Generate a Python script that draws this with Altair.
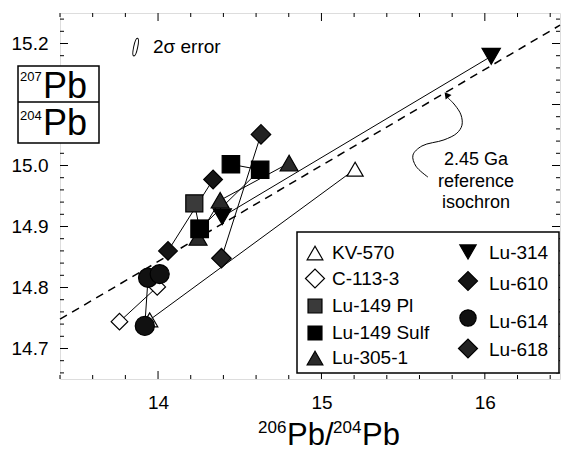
import altair as alt
import pandas as pd

# ---------------- data ----------------
SERIES = ["KV-570", "C-113-3", "Lu-149 Pl", "Lu-149 Sulf", "Lu-305-1",
          "Lu-314", "Lu-610", "Lu-614", "Lu-618"]

KV570_X = [13.949, 15.206]
KV570_Y = [14.747, 14.994]
C1133_X = [13.764, 13.995]
C1133_Y = [14.744, 14.801]
LU149PL_X = [14.222, 14.255]
LU149PL_Y = [14.938, 14.896]
LU149SULF_X = [14.255, 14.625, 14.446]
LU149SULF_Y = [14.896, 14.993, 15.002]
LU3051_X = [14.245, 14.380, 14.802]
LU3051_Y = [14.882, 14.943, 15.004]
LU314_X = [14.393, 16.039]
LU314_Y = [14.916, 15.179]
LU610_X = [14.061, 14.337]
LU610_Y = [14.860, 14.977]
LU614_X = [13.919, 13.939, 14.010]
LU614_Y = [14.737, 14.816, 14.822]
LU618_X = [14.388, 14.630]
LU618_Y = [14.848, 15.051]

# 2.45 Ga reference isochron end points
ISO_X = [13.4, 16.46]
ISO_Y = [14.748, 15.230]

# curved annotation arrow (data units)
ARROW_X = [15.774, 15.817, 15.854, 15.860, 15.829, 15.750, 15.615, 15.560, 15.578, 15.652]
ARROW_Y = [15.111, 15.099, 15.083, 15.066, 15.053, 15.042, 15.032, 15.017, 14.999, 14.981]

X_MAJOR = [14, 15, 16]
X_MINOR = [13.4, 13.6, 13.8, 14.2, 14.4, 14.6, 14.8, 15.2, 15.4, 15.6, 15.8, 16.2, 16.4]
Y_MAJOR = [14.7, 14.8, 14.9, 15.0, 15.1, 15.2]
Y_LABELS = [14.7, 14.8, 14.9, 15.0, 15.2]   # 15.1 is hidden under the title box
Y_MINOR = [14.66, 14.68, 14.72, 14.74, 14.76, 14.78, 14.82, 14.84, 14.86, 14.88,
           14.92, 14.94, 14.96, 14.98, 15.02, 15.04, 15.06, 15.08, 15.12, 15.14,
           15.16, 15.18, 15.22, 15.24]

# ---------------- build tables ----------------
series_xy = {
    "KV-570": (KV570_X, KV570_Y), "C-113-3": (C1133_X, C1133_Y),
    "Lu-149 Pl": (LU149PL_X, LU149PL_Y), "Lu-149 Sulf": (LU149SULF_X, LU149SULF_Y),
    "Lu-305-1": (LU3051_X, LU3051_Y), "Lu-314": (LU314_X, LU314_Y),
    "Lu-610": (LU610_X, LU610_Y), "Lu-614": (LU614_X, LU614_Y),
    "Lu-618": (LU618_X, LU618_Y),
}
DRAW_ORDER = ["KV-570", "C-113-3", "Lu-305-1", "Lu-149 Pl", "Lu-149 Sulf",
              "Lu-314", "Lu-610", "Lu-618", "Lu-614"]
rows = []
k = 0
for s in DRAW_ORDER:
    xs_, ys_ = series_xy[s]
    for i, (a, b) in enumerate(zip(xs_, ys_)):
        rows.append({"series": s, "x": a, "y": b, "i": i, "k": k})
        k += 1
pts = pd.DataFrame(rows)

SHAPES = {"KV-570": "triangle-up", "C-113-3": "diamond", "Lu-149 Pl": "square",
          "Lu-149 Sulf": "square", "Lu-305-1": "triangle-up", "Lu-314": "triangle-down",
          "Lu-610": "diamond", "Lu-614": "circle", "Lu-618": "diamond"}
FILLS = {"KV-570": "white", "C-113-3": "white", "Lu-149 Pl": "#3a3a3a",
         "Lu-149 Sulf": "black", "Lu-305-1": "#2a2a2a", "Lu-314": "black",
         "Lu-610": "#151515", "Lu-614": "#111111", "Lu-618": "#222222"}
SIZES = {"triangle-up": 260, "triangle-down": 280, "diamond": 380, "square": 205, "circle": 280}

iso = pd.DataFrame({"x": ISO_X, "y": ISO_Y})
arrow = pd.DataFrame({"x": ARROW_X, "y": ARROW_Y, "o": list(range(len(ARROW_X)))})

W, H = 500, 366
FONT = "Liberation Sans"
xsc = alt.Scale(domain=[13.4, 16.46], nice=False, zero=False)
ysc = alt.Scale(domain=[14.65, 15.25], nice=False, zero=False)

X = alt.X("x:Q", scale=xsc,
          axis=alt.Axis(values=X_MAJOR, title=None, grid=False, ticks=False, domain=False,
                        labelFontSize=19, labelFont=FONT, labelColor="black",
                        labelPadding=14, format="d"))
Y = alt.Y("y:Q", scale=ysc,
          axis=alt.Axis(values=Y_LABELS, title=None, grid=False, ticks=False, domain=False,
                        labelFontSize=19, labelFont=FONT, labelColor="black",
                        labelPadding=12, format=".1f"))

lines = alt.Chart(pts).mark_line(color="black", strokeWidth=1).encode(
    x=X, y=Y, detail="series:N", order="i:Q")

isochron = alt.Chart(iso).mark_line(color="black", strokeWidth=1.5,
                                    strokeDash=[8, 6]).encode(
    x=alt.X("x:Q", scale=xsc), y=alt.Y("y:Q", scale=ysc))

points = alt.Chart(pts).mark_point(stroke="black", strokeWidth=1.2, opacity=1,
                                   fillOpacity=1).encode(
    x=alt.X("x:Q", scale=xsc), y=alt.Y("y:Q", scale=ysc),
    shape=alt.Shape("series:N", scale=alt.Scale(domain=SERIES,
                    range=[SHAPES[s] for s in SERIES]), legend=None),
    fill=alt.Fill("series:N", scale=alt.Scale(domain=SERIES,
                  range=[FILLS[s] for s in SERIES]), legend=None),
    size=alt.Size("series:N", scale=alt.Scale(domain=SERIES,
                  range=[SIZES[SHAPES[s]] for s in SERIES]), legend=None),
    order="k:Q")

# ticks (inward on all four sides)
xmaj = pd.DataFrame({"v": X_MAJOR})
xmin = pd.DataFrame({"v": X_MINOR})
ymaj = pd.DataFrame({"v": Y_MAJOR})
ymin = pd.DataFrame({"v": Y_MINOR})


def xticks(df, ln):
    b = alt.Chart(df).mark_rule(color="black", strokeWidth=1).encode(
        x=alt.X("v:Q", scale=xsc), y=alt.value(H), y2=alt.value(H - ln))
    t = alt.Chart(df).mark_rule(color="black", strokeWidth=1).encode(
        x=alt.X("v:Q", scale=xsc), y=alt.value(0), y2=alt.value(ln))
    return b + t


def yticks(df, ln):
    l = alt.Chart(df).mark_rule(color="black", strokeWidth=1).encode(
        y=alt.Y("v:Q", scale=ysc), x=alt.value(0), x2=alt.value(ln))
    r = alt.Chart(df).mark_rule(color="black", strokeWidth=1).encode(
        y=alt.Y("v:Q", scale=ysc), x=alt.value(W), x2=alt.value(W - ln))
    return l + r


ticks = xticks(xmaj, 8) + xticks(xmin, 4) + yticks(ymaj, 8) + yticks(ymin, 4)

# 2 sigma error annotation
err = pd.DataFrame({"x": [13.863], "y": [15.194]})
ellipse = alt.Chart(err).mark_point(
    shape="M0,-1 A0.22,1 0 1,1 0,1 A0.22,1 0 1,1 0,-1 Z",
    stroke="black", strokeWidth=1, filled=False, opacity=1, size=330, angle=12).encode(
    x=alt.X("x:Q", scale=xsc), y=alt.Y("y:Q", scale=ysc))
err_lbl = pd.DataFrame({"x": [13.969], "y": [15.194], "t": ["2σ error"]})
err_text = alt.Chart(err_lbl).mark_text(align="left", baseline="middle", fontSize=19,
                                        font=FONT, color="black").encode(
    x=alt.X("x:Q", scale=xsc), y=alt.Y("y:Q", scale=ysc), text="t:N")

# isochron annotation (first line position; following lines below it)
iso_lbl = pd.DataFrame({"x": [15.946], "y": [15.009],
                        "t": ["2.45 Ga\nreference\nisochron"]})
iso_text = alt.Chart(iso_lbl).mark_text(align="center", baseline="middle", fontSize=18,
                                        font=FONT, color="black", lineBreak="\n",
                                        lineHeight=21.7).encode(
    x=alt.X("x:Q", scale=xsc), y=alt.Y("y:Q", scale=ysc), text="t:N")
arrow_line = alt.Chart(arrow).mark_line(color="black", strokeWidth=1,
                                        interpolate="catmull-rom").encode(
    x=alt.X("x:Q", scale=xsc), y=alt.Y("y:Q", scale=ysc), order="o:Q")
head = pd.DataFrame({"x": [15.766], "y": [15.116]})
arrow_head = alt.Chart(head).mark_point(shape="triangle-up", filled=True, color="black",
                                        opacity=1, size=55, angle=322).encode(
    x=alt.X("x:Q", scale=xsc), y=alt.Y("y:Q", scale=ysc))

# ---------------- text helpers (titles / legend) ----------------
one = pd.DataFrame({"a": [0]})


def txt(s, x, y, size, baseline="alphabetic"):
    return alt.Chart(one).mark_text(text=s, align="left", baseline=baseline,
                                    fontSize=size, font=FONT, color="black").encode(
        x=alt.value(x), y=alt.value(y))


def sym(name, x, y):
    shp = SHAPES[name]
    return alt.Chart(one).mark_point(shape=shp, fill=FILLS[name], stroke="black",
                                     strokeWidth=1.2, opacity=1, fillOpacity=1,
                                     size=SIZES[shp] * 0.95).encode(
        x=alt.value(x), y=alt.value(y))


# y-axis title box
box = alt.Chart(one).mark_rect(fill="white", stroke="black", strokeWidth=1.5).encode(
    x=alt.value(-42), x2=alt.value(39), y=alt.value(53), y2=alt.value(130))
divider = alt.Chart(one).mark_rule(color="black", strokeWidth=1.5).encode(
    x=alt.value(-42), x2=alt.value(39), y=alt.value(89))
ytitle = (txt("207", -40, 68, 13) + txt("Pb", -17, 85, 36) +
          txt("204", -40, 107, 13) + txt("Pb", -17, 122, 36))
xtitle = (txt("206", 198, 420, 17) + txt("Pb/", 227, 432, 31) +
          txt("204", 273, 420, 17) + txt("Pb", 302, 432, 31))

# legend (two columns, as in the figure)
LEG_LEFT = ["KV-570", "C-113-3", "Lu-149 Pl", "Lu-149 Sulf", "Lu-305-1"]
LEG_RIGHT = ["Lu-314", "Lu-610", "Lu-614", "Lu-618"]
left_sym_y = [240, 265.5, 293, 320, 345]
right_sym_y = [239, 268, 305, 335.5]
right_txt_y = [239.5, 270.5, 308.5, 337]

leg_box = alt.Chart(one).mark_rect(fill="white", stroke="black", strokeWidth=1.5).encode(
    x=alt.value(237), x2=alt.value(499), y=alt.value(219), y2=alt.value(360))
leg_layers = [leg_box]
for name, yy in zip(LEG_LEFT, left_sym_y):
    leg_layers.append(sym(name, 255, yy))
    leg_layers.append(txt(name, 272, yy, 19, "middle"))
for name, yy, ty in zip(LEG_RIGHT, right_sym_y, right_txt_y):
    leg_layers.append(sym(name, 408, yy))
    leg_layers.append(txt(name, 429, ty, 19, "middle"))
legend_layer = alt.layer(*leg_layers)

chart = alt.layer(
    ticks, isochron, lines, points, ellipse, err_text, iso_text,
    arrow_line, arrow_head, box, divider, ytitle, xtitle, legend_layer
).properties(
    width=W, height=H,
    autosize=alt.AutoSizeParams(type="none"),
    padding={"left": 60, "top": 13, "right": 6, "bottom": 72},
).configure_view(stroke="black", strokeWidth=1.5).configure(background="white")

chart.save("out.html", embed_options={"renderer": "svg", "actions": False})
